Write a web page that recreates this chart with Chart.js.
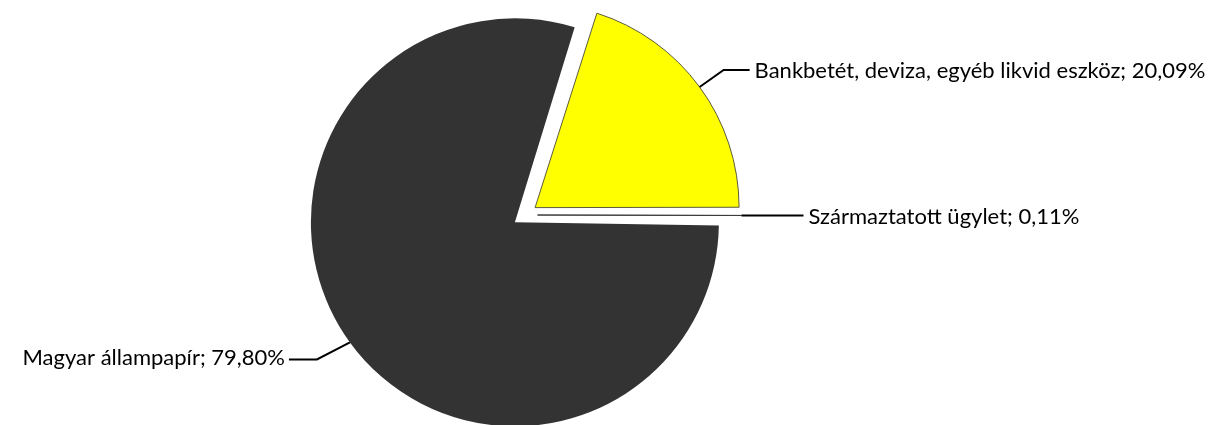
<!DOCTYPE html>
<html>
<head>
<meta charset="utf-8">
<script src="https://cdn.jsdelivr.net/npm/chart.js@4/dist/chart.umd.min.js"></script>
<style>
  html, body { margin: 0; padding: 0; background: #fff; }
  #wrap { width: 1210px; height: 425px; }
</style>
</head>
<body>
<div id="wrap"><canvas id="pieChart" width="1210" height="425"></canvas></div>
<script>
// data
var labels = ["Bankbetét, deviza, egyéb likvid eszköz", "Származtatott ügylet", "Magyar állampapír"];
var shares = [20.09, 0.11, 79.80];
var colors = ['#ffff00', '#3a3a3a', '#333333'];

var RADIUS = 204;
var OFFSET = 50; // chart.js divides by 4 when drawing -> ~12.5px explode

// leader line shape for each label: elbow vector, then horizontal run
var leaders = [
    { elbow: [24, -17], run: 26 },
    { elbow: [0, 0], run: 62 },
    { elbow: [-33, 17], run: -28 }
];

function pct(v) {
    return v.toFixed(2).replace('.', ',') + '%';
}

// chart.js grows the outer radius of an exploded arc; undo that so all slices keep the same size
var keepRadius = {
    id: 'keepRadius',
    beforeDatasetsDraw: function (chart) {
        chart.getDatasetMeta(0).data.forEach(function (arc) {
            var c = arc.endAngle - arc.startAngle;
            var fix = 1 - Math.sin(Math.min(Math.PI, c));
            arc.outerRadius = RADIUS - (OFFSET / 4) * fix;
        });
    }
};

var leaderLabels = {
    id: 'leaderLabels',
    afterDraw: function (chart) {
        var ctx = chart.ctx;
        var arcs = chart.getDatasetMeta(0).data;
        ctx.save();
        ctx.strokeStyle = '#000';
        ctx.lineWidth = 2;
        ctx.fillStyle = '#000';
        ctx.font = '22px Lato, "DejaVu Sans", sans-serif';
        ctx.textBaseline = 'middle';
        arcs.forEach(function (arc, i) {
            var h = (arc.startAngle + arc.endAngle) / 2;
            var r = RADIUS + OFFSET / 4;
            var ax = arc.x + Math.cos(h) * r;
            var ay = arc.y + Math.sin(h) * r;
            var L = leaders[i];
            var ex = ax + L.elbow[0], ey = ay + L.elbow[1];
            var tx = ex + L.run;
            ctx.beginPath();
            ctx.moveTo(ax, ay);
            ctx.lineTo(ex, ey);
            ctx.lineTo(tx, ey);
            ctx.stroke();
            var text = labels[i] + '; ' + pct(shares[i]);
            if (L.run < 0) {
                ctx.textAlign = 'right';
                ctx.fillText(text, tx - 4, ey - 1);
            } else {
                ctx.textAlign = 'left';
                ctx.fillText(text, tx + 5, ey + 1);
            }
        });
        ctx.restore();
    }
};

var pieChart = document.getElementById('pieChart');

new Chart(pieChart, {
    type: 'pie',
    data: {
        labels: labels,
        datasets: [{
            data: shares,
            backgroundColor: colors,
            borderColor: ['#5c5c3a', '#3a3a3a', '#333333'],
            borderWidth: [1, 1, 0],
            offset: OFFSET,
            radius: RADIUS
        }]
    },
    options: {
        responsive: false,
        animation: false,
        events: [],
        rotation: 17.6,
        layout: { padding: { left: 0, right: 160, top: 5, bottom: 0 } },
        plugins: {
            legend: { display: false },
            tooltip: { enabled: false }
        }
    },
    plugins: [keepRadius, leaderLabels]
});
</script>
</body>
</html>
